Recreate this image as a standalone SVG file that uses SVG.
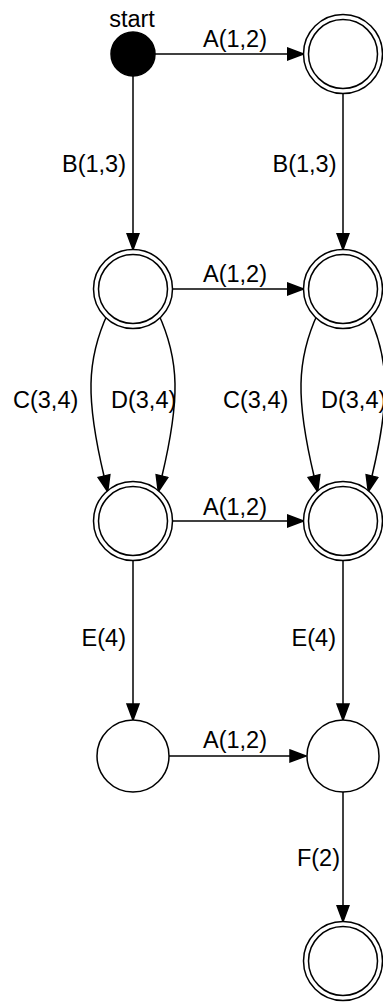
<svg xmlns="http://www.w3.org/2000/svg" width="383" height="1002" viewBox="0 0 383 1002">
<style>
.st{fill:#fff;stroke:#000;stroke-width:1.5}
.edge{fill:none;stroke:#000;stroke-width:1.5;marker-end:url(#ah)}
text{font-family:"Liberation Sans",Arial,Helvetica,sans-serif;font-size:23.5px;fill:#000}
</style>
<defs>
<marker id="ah" markerWidth="20" markerHeight="16" viewBox="-1 -8 20 16" refX="0" refY="0" orient="auto" markerUnits="userSpaceOnUse">
<path d="M0,-6 L16,0 L0,6 z" fill="#000" stroke="#000" stroke-width="1.5"/>
</marker>
</defs>
<rect width="383" height="1002" fill="#fff"/>
<g id="connectors">
<path class="edge" d="M155,54 H287.5"/>
<path class="edge" d="M133,76 V233.5"/>
<path class="edge" d="M343,88.5 V233.5"/>
<path class="edge" d="M167.5,289 H287.5"/>
<path class="edge" d="M108,313 C86,360 86,400 104,476"/>
<path class="edge" d="M158,313 C180,360 180,400 162,476"/>
<path class="edge" d="M318,313 C296,360 296,400 314,476"/>
<path class="edge" d="M368,313 C390,360 390,400 372,476"/>
<path class="edge" d="M167.5,521 H287.5"/>
<path class="edge" d="M133,555.5 V704"/>
<path class="edge" d="M343,555.5 V704"/>
<path class="edge" d="M169,756 H290"/>
<path class="edge" d="M343,792 V905.5"/>
<text x="235" y="47" text-anchor="middle">A(1,2)</text>
<text x="126" y="172" text-anchor="end">B(1,3)</text>
<text x="336.5" y="172" text-anchor="end">B(1,3)</text>
<text x="235" y="282" text-anchor="middle">A(1,2)</text>
<text x="13" y="408">C(3,4)</text>
<text x="111" y="408">D(3,4)</text>
<text x="223" y="408">C(3,4)</text>
<text x="321" y="408">D(3,4)</text>
<text x="235" y="515" text-anchor="middle">A(1,2)</text>
<text x="126" y="646" text-anchor="end">E(4)</text>
<text x="336" y="646" text-anchor="end">E(4)</text>
<text x="235" y="748" text-anchor="middle">A(1,2)</text>
<text x="340" y="866" text-anchor="end">F(2)</text>
</g>
<g id="start">
<circle cx="133" cy="54" r="22" fill="#000" stroke="#000" stroke-width="1.5"/>
<text x="132" y="27" text-anchor="middle">start</text>
</g>
<g id="n1"><circle class="st" cx="343" cy="54" r="39.5"/><circle class="st" cx="343" cy="54" r="34.5"/></g>
<g id="n2"><circle class="st" cx="133" cy="289" r="39.5"/><circle class="st" cx="133" cy="289" r="34.5"/></g>
<g id="n3"><circle class="st" cx="343" cy="289" r="39.5"/><circle class="st" cx="343" cy="289" r="34.5"/></g>
<g id="n4"><circle class="st" cx="133" cy="521" r="39.5"/><circle class="st" cx="133" cy="521" r="34.5"/></g>
<g id="n5"><circle class="st" cx="343" cy="521" r="39.5"/><circle class="st" cx="343" cy="521" r="34.5"/></g>
<g id="n6"><circle class="st" cx="133" cy="756" r="36"/></g>
<g id="n7"><circle class="st" cx="343" cy="756" r="36"/></g>
<g id="n8"><circle class="st" cx="343" cy="961" r="39.5"/><circle class="st" cx="343" cy="961" r="34.5"/></g>
</svg>
